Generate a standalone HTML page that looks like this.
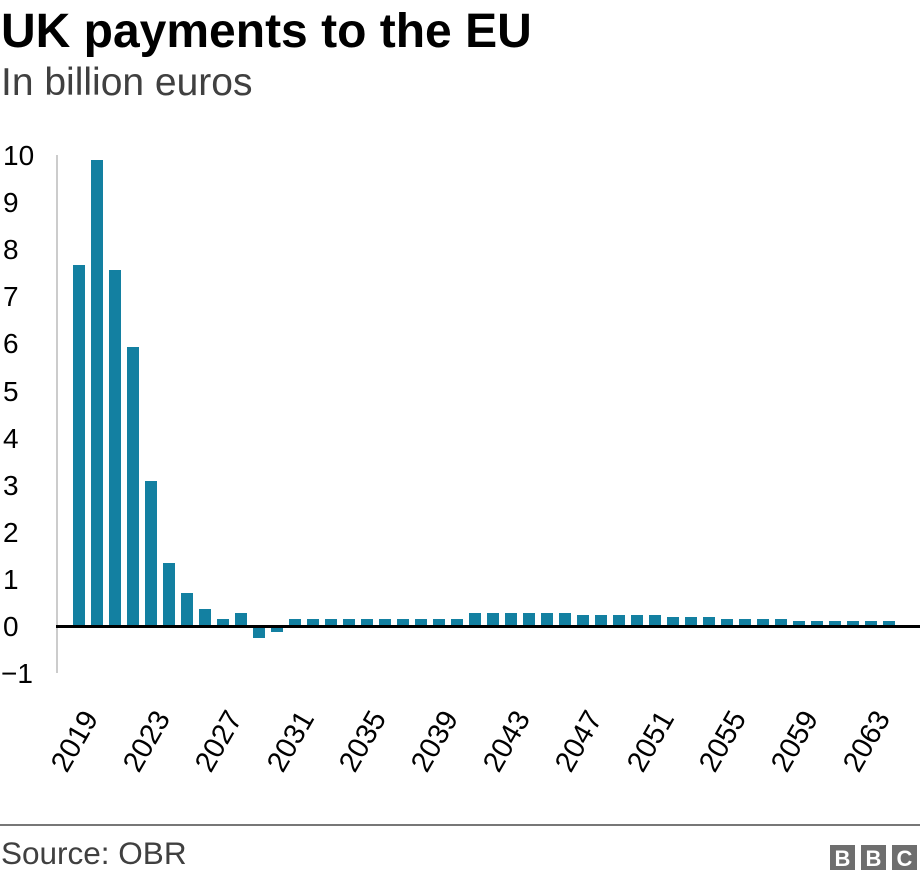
<!DOCTYPE html>
<html><head><meta charset="utf-8"><style>
body{margin:0;background:#fff;}
svg{display:block;font-family:"Liberation Sans",Arial,sans-serif;}
</style></head><body>
<svg width="920" height="880" viewBox="0 0 920 880">
<text x="1" y="47" font-size="48" font-weight="bold" fill="#000">UK payments to the EU</text>
<text x="1" y="95" font-size="39" fill="#404040">In billion euros</text>
<g font-size="28" fill="#000">
<text x="3" y="165">10</text>
<text x="3" y="212">9</text>
<text x="3" y="259">8</text>
<text x="3" y="306">7</text>
<text x="3" y="353">6</text>
<text x="3" y="401">5</text>
<text x="3" y="448">4</text>
<text x="3" y="495">3</text>
<text x="3" y="542">2</text>
<text x="3" y="589">1</text>
<text x="3" y="636">0</text>
<text x="1" y="683">−1</text>
</g>
<line x1="57" y1="155" x2="57" y2="673" stroke="#ccc" stroke-width="2"/>
<g id="bars" fill="#1380a1"></g>
<line x1="56" y1="626.5" x2="920" y2="626.5" stroke="#000" stroke-width="3"/>
<g id="labels" font-size="29" fill="#000"></g>
<line x1="0" y1="825" x2="920" y2="825" stroke="#777" stroke-width="2"/>
<text x="1" y="864" font-size="31.5" fill="#404040">Source: OBR</text>
<g fill="#6e6e6e"><rect x="830" y="845" width="25" height="25"/><rect x="861" y="845" width="25" height="25"/><rect x="892" y="845" width="25" height="25"/></g>
<g font-size="22" font-weight="bold" fill="#fff" text-anchor="middle"><text x="842.5" y="866">B</text><text x="873.5" y="866">B</text><text x="904.5" y="866">C</text></g>
</svg>
<script>
var tops=[265,160,270,347,481,563,593,609,619,613,638,632];
for(var i=12;i<22;i++)tops.push(619);
for(var i=0;i<6;i++)tops.push(613);
for(var i=0;i<5;i++)tops.push(615);
for(var i=0;i<3;i++)tops.push(617);
for(var i=0;i<4;i++)tops.push(619);
for(var i=0;i<6;i++)tops.push(621);
var ns="http://www.w3.org/2000/svg",g=document.getElementById("bars"),L=document.getElementById("labels");
tops.forEach(function(t,i){var r=document.createElementNS(ns,"rect");var x=73+i*18;
var y0=Math.min(t,626),h=Math.abs(626-t);r.setAttribute("x",x);r.setAttribute("y",y0);r.setAttribute("width",12);r.setAttribute("height",h);g.appendChild(r);
if(i%4==0){var tx=document.createElementNS(ns,"text");var cx=x+6+20,cy=718;tx.setAttribute("x",cx);tx.setAttribute("y",cy);tx.setAttribute("text-anchor","end");tx.setAttribute("transform","rotate(-60 "+cx+" "+cy+")");tx.textContent=2019+i;L.appendChild(tx);}});
</script>
</body></html>
